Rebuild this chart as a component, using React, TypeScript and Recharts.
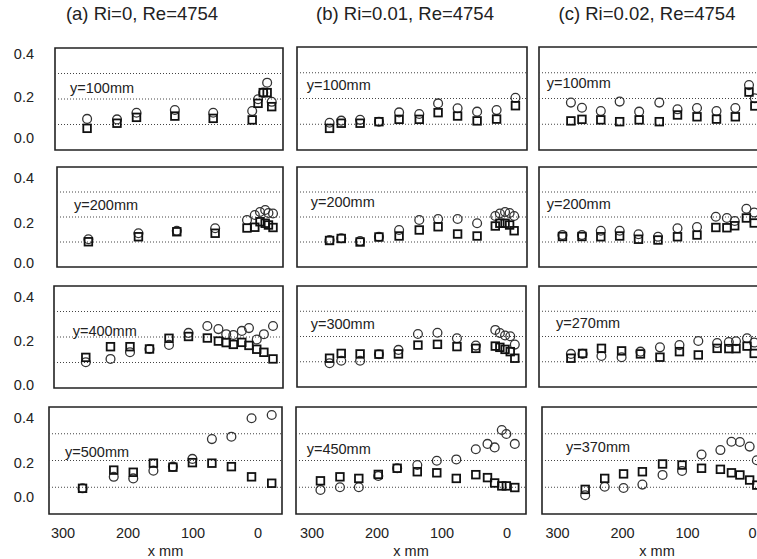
import { ScatterChart, Scatter, XAxis, YAxis, ReferenceLine, ReferenceArea } from "recharts";

const FONT = '"Liberation Sans", Arial, Helvetica, sans-serif';

// --- data (x in mm, value unitless) ---
const a1X = [266, 220, 190, 131, 72, 12, 3, -5, -11, -18];
const a1Circle = [0.122, 0.12, 0.146, 0.157, 0.146, 0.153, 0.199, 0.225, 0.264, 0.189];
const a1Square = [0.085, 0.105, 0.128, 0.133, 0.124, 0.118, 0.183, 0.225, 0.225, 0.17];

const a2X = [264, 187, 128, 69, 20, 8, 0, -8, -13, -20];
const a2Circle = [0.111, 0.135, 0.145, 0.155, 0.188, 0.208, 0.22, 0.228, 0.216, 0.214];
const a2Square = [0.101, 0.121, 0.141, 0.135, 0.156, 0.159, 0.181, 0.175, 0.168, 0.158];

const a3X = [268, 230, 200, 170, 140, 110, 81, 64, 52, 41, 28, 17, 5, -6, -20];
const a3Circle = [0.101, 0.114, 0.14, 0.153, 0.169, 0.216, 0.243, 0.231, 0.211, 0.208, 0.224, 0.235, 0.19, 0.211, 0.243];
const a3Square = [0.12, 0.162, 0.162, 0.153, 0.195, 0.202, 0.196, 0.184, 0.178, 0.171, 0.179, 0.167, 0.152, 0.14, 0.114];

const a4X = [273, 225, 195, 164, 134, 104, 74, 44, 13, -18];
const a4Circle = [0.096, 0.139, 0.133, 0.162, 0.177, 0.206, 0.28, 0.289, 0.358, 0.37];
const a4Square = [0.096, 0.164, 0.156, 0.19, 0.175, 0.192, 0.19, 0.177, 0.139, 0.115];

const b1X = [273, 255, 226, 197, 166, 135, 106, 76, 46, 16, -13];
const b1Circle = [0.106, 0.114, 0.117, 0.11, 0.146, 0.14, 0.181, 0.162, 0.149, 0.155, 0.203];
const b1Square = [0.084, 0.104, 0.104, 0.11, 0.119, 0.119, 0.145, 0.132, 0.113, 0.12, 0.172];

const b2X = [273, 255, 226, 197, 166, 135, 106, 76, 46, 18, 11, 3, -4, -11];
const b2Circle = [0.108, 0.115, 0.104, 0.121, 0.148, 0.188, 0.192, 0.192, 0.175, 0.204, 0.214, 0.22, 0.216, 0.204];
const b2Square = [0.106, 0.114, 0.1, 0.12, 0.124, 0.148, 0.161, 0.132, 0.124, 0.164, 0.175, 0.175, 0.168, 0.145];

const b3X = [273, 255, 226, 197, 167, 137, 107, 77, 48, 18, 11, 3, -5, -12];
const b3Circle = [0.094, 0.104, 0.104, 0.13, 0.147, 0.21, 0.215, 0.193, 0.164, 0.226, 0.214, 0.204, 0.201, 0.168];
const b3Square = [0.114, 0.133, 0.131, 0.13, 0.131, 0.166, 0.169, 0.16, 0.153, 0.162, 0.157, 0.149, 0.14, 0.114];

const b4X = [287, 257, 228, 198, 169, 138, 108, 78, 48, 30, 19, 8, 1, -12];
const b4Circle = [0.09, 0.1, 0.1, 0.142, 0.171, 0.183, 0.199, 0.204, 0.242, 0.262, 0.249, 0.314, 0.299, 0.262];
const b4Square = [0.124, 0.139, 0.133, 0.148, 0.171, 0.158, 0.154, 0.133, 0.147, 0.136, 0.116, 0.105, 0.105, 0.099];

const c1X = [284, 267, 238, 209, 179, 148, 120, 90, 60, 31, 10, 1];
const c1Circle = [0.184, 0.164, 0.151, 0.188, 0.149, 0.184, 0.158, 0.163, 0.151, 0.163, 0.252, 0.201];
const c1Square = [0.113, 0.119, 0.117, 0.11, 0.117, 0.11, 0.136, 0.129, 0.12, 0.129, 0.225, 0.171];

const c2X = [297, 267, 238, 209, 180, 150, 120, 90, 61, 44, 32, 14, 2];
const c2Circle = [0.128, 0.128, 0.145, 0.145, 0.131, 0.121, 0.155, 0.16, 0.201, 0.196, 0.184, 0.233, 0.218];
const c2Square = [0.122, 0.122, 0.121, 0.124, 0.111, 0.108, 0.121, 0.128, 0.158, 0.157, 0.165, 0.196, 0.176];

const c3X = [284, 266, 237, 206, 177, 147, 117, 88, 59, 41, 30, 13, 2];
const c3Circle = [0.131, 0.131, 0.123, 0.118, 0.14, 0.157, 0.166, 0.182, 0.174, 0.178, 0.181, 0.193, 0.176];
const c3Square = [0.114, 0.133, 0.153, 0.143, 0.131, 0.118, 0.14, 0.127, 0.153, 0.152, 0.152, 0.162, 0.133];

const c4X = [262, 232, 203, 174, 143, 113, 83, 54, 37, 24, 9, -2];
const c4Circle = [0.07, 0.102, 0.097, 0.11, 0.146, 0.161, 0.222, 0.239, 0.27, 0.269, 0.252, 0.201];
const c4Square = [0.092, 0.133, 0.15, 0.158, 0.187, 0.183, 0.171, 0.167, 0.154, 0.146, 0.127, 0.108];

const COLUMN_TITLES = ["(a) Ri=0, Re=4754", "(b) Ri=0.01, Re=4754", "(c) Ri=0.02, Re=4754"];
const X_TICKS = [0, 100, 200, 300];
const Y_TICKS = [0, 0.2, 0.4];
const GRID_VALUES = [0.1, 0.2, 0.3];

// row-major: a1 b1 c1 / a2 b2 c2 / ...
const PANELS = [
  { label: "y=100mm", x: a1X, circles: a1Circle, squares: a1Square },
  { label: "y=100mm", x: b1X, circles: b1Circle, squares: b1Square },
  { label: "y=100mm", x: c1X, circles: c1Circle, squares: c1Square },
  { label: "y=200mm", x: a2X, circles: a2Circle, squares: a2Square },
  { label: "y=200mm", x: b2X, circles: b2Circle, squares: b2Square },
  { label: "y=200mm", x: c2X, circles: c2Circle, squares: c2Square },
  { label: "y=400mm", x: a3X, circles: a3Circle, squares: a3Square },
  { label: "y=300mm", x: b3X, circles: b3Circle, squares: b3Square },
  { label: "y=270mm", x: c3X, circles: c3Circle, squares: c3Square },
  { label: "y=500mm", x: a4X, circles: a4Circle, squares: a4Square },
  { label: "y=450mm", x: b4X, circles: b4Circle, squares: b4Square },
  { label: "y=370mm", x: c4X, circles: c4Circle, squares: c4Square },
];

// --- layout (pixels) ---
const PX_PER_MM = 0.65;
const ZERO_PX = [260, 507, 755.5];
const TITLE_CENTER = [142, 405, 647];
// [left, right, top, bottom] of each plot box
const BOXES = [
  [55, 283, 48, 150], [297, 527, 47, 150], [539, 770, 47, 150],
  [57, 283, 167, 267], [297, 527, 167, 267], [539, 770, 167, 267],
  [54, 283, 286, 388], [297, 526, 286, 387], [539, 770, 286, 387],
  [49, 282, 407, 514], [296, 526, 407, 514], [542, 772, 407, 514],
];
// [left, centerY] of the "y=..." label
const LABEL_POS = [
  [70, 88], [306.7, 85], [546.7, 83.3],
  [74, 205], [310.7, 201.7], [546.7, 204],
  [72.7, 331], [310.7, 324], [556, 322.7],
  [65, 451.7], [306.7, 449.3], [566, 446.7],
];
// vertical nudge of the 0.4 / 0.2 / 0.0 labels in each row
const Y_LABEL_SHIFT = [
  [6, -2, -12],
  [11, 6, -4],
  [11, 4, -3],
  [11, 2.5, -17],
];
const X_AXIS_H = 45;
const X_TICK_NUDGE = [-2, 0, -3];

const circleShape = (p: any) => (
  <circle cx={p.cx} cy={p.cy} r={4.4} fill="none" stroke="#333" strokeWidth={1.3} />
);
const squareShape = (p: any) => (
  <rect x={p.cx - 3.8} y={p.cy - 3.8} width={7.6} height={7.6} fill="none" stroke="#111" strokeWidth={1.8} />
);

function Panel({ index }: { index: number }) {
  const p = PANELS[index];
  const [L, R, T, B] = BOXES[index];
  const col = index % 3;
  const row = Math.floor(index / 3);
  const first = col === 0;
  const last = row === 3;
  const padL = first ? L : 0;
  const padB = last ? X_AXIS_H : 0;
  const x0 = ZERO_PX[col];
  const xHi = (x0 - L) / PX_PER_MM;
  const xLo = (x0 - R) / PX_PER_MM;
  const circles = p.x.map((x, i) => ({ x, y: p.circles[i] }));
  const squares = p.x.map((x, i) => ({ x, y: p.squares[i] }));
  const [lx, ly] = LABEL_POS[index];

  const yTick = (t: any) => {
    const v = t.payload.value;
    const k = v > 0.3 ? 0 : v > 0.1 ? 1 : 2;
    return (
      <text x={34} y={t.y + Y_LABEL_SHIFT[row][k]} textAnchor="end" dominantBaseline="central"
        fontSize={14.5} fill="#222" fontFamily={FONT}>
        {v.toFixed(1)}
      </text>
    );
  };
  const xTick = (t: any) => (
    <text x={t.x + X_TICK_NUDGE[col]} y={t.y + 19} textAnchor="middle" dominantBaseline="central"
      fontSize={14.5} fill="#222" fontFamily={FONT}>
      {t.payload.value}
    </text>
  );

  return (
    <>
      <div style={{ position: "absolute", left: L - padL, top: T }}>
        <ScatterChart width={R - L + padL} height={B - T + padB} margin={{ top: 0, right: 0, bottom: 0, left: 0 }}>
          <XAxis
            type="number"
            dataKey="x"
            domain={[xLo, xHi]}
            reversed
            allowDataOverflow
            hide={!last}
            height={padB}
            ticks={X_TICKS}
            interval={0}
            tickSize={0}
            tickMargin={0}
            axisLine={false}
            tick={xTick}
            label={{ value: "x mm", position: "insideBottom", offset: 3, fontSize: 14.5, fill: "#222", fontFamily: FONT }}
          />
          <YAxis
            type="number"
            dataKey="y"
            domain={[0, 0.4]}
            allowDataOverflow
            hide={!first}
            width={padL}
            ticks={Y_TICKS}
            interval={0}
            tickSize={0}
            tickMargin={0}
            axisLine={false}
            tick={yTick}
          />
          {GRID_VALUES.map((v) => (
            <ReferenceLine key={v} y={v} stroke="#444" strokeWidth={1} strokeDasharray="1 2" />
          ))}
          <ReferenceArea x1={xLo} x2={xHi} y1={0} y2={0.4} fill="none" stroke="#222"
            strokeWidth={1.6} fillOpacity={0} ifOverflow="visible" />
          <Scatter data={circles} shape={circleShape} isAnimationActive={false} />
          <Scatter data={squares} shape={squareShape} isAnimationActive={false} />
        </ScatterChart>
      </div>
      <div style={{ position: "absolute", left: lx, top: ly - 9, lineHeight: "18px", fontSize: 14.5, color: "#222", whiteSpace: "nowrap" }}>
        {p.label}
      </div>
    </>
  );
}

export default function App() {
  return (
    <div style={{ position: "fixed", left: 0, top: 0, width: 757, height: 559, overflow: "hidden", background: "#fff", fontFamily: FONT }}>
      <style>{".recharts-surface, .recharts-wrapper { overflow: visible !important; }"}</style>
      {COLUMN_TITLES.map((t, i) => (
        <div key={t} style={{ position: "absolute", left: TITLE_CENTER[i] - 150, width: 300, top: 3, lineHeight: "22px", fontSize: 18.5, color: "#222", textAlign: "center" }}>
          {t}
        </div>
      ))}
      {PANELS.map((_, i) => (
        <Panel key={i} index={i} />
      ))}
    </div>
  );
}
